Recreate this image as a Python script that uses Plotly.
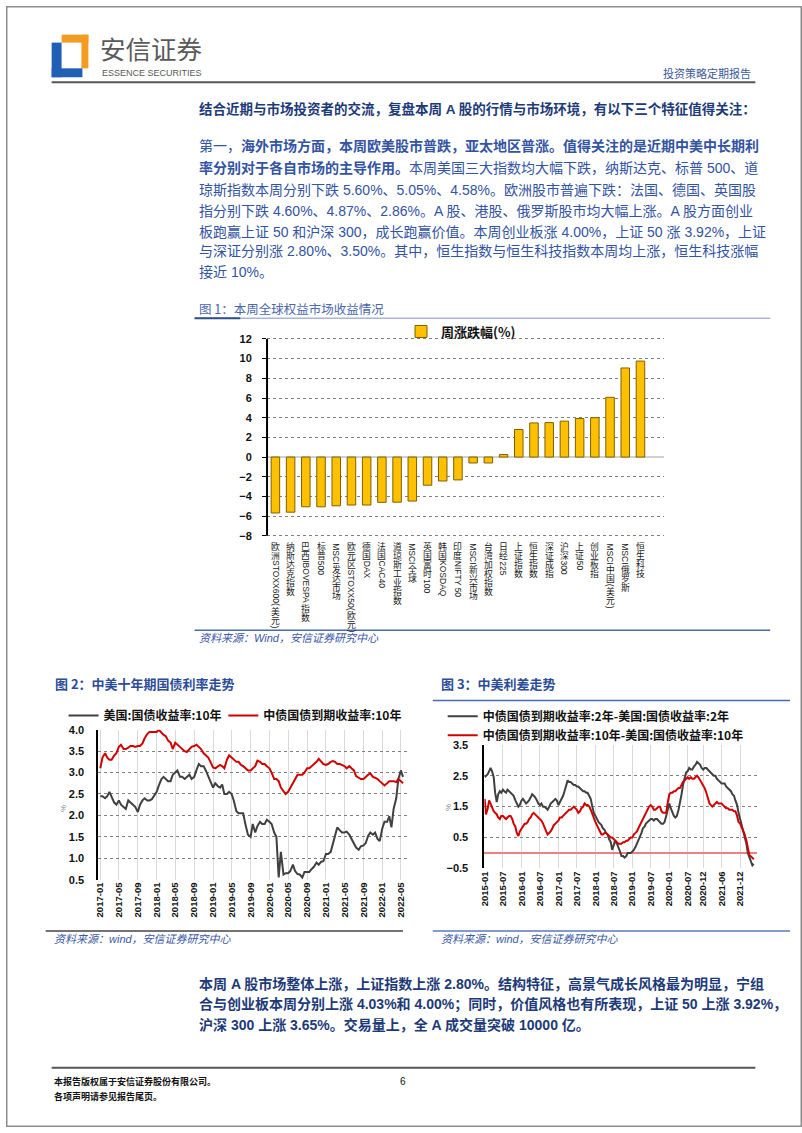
import plotly.graph_objects as go
import pandas as pd

W, H = 802, 1133


def X(p):
    return p / W


def Y(p):
    return 1 - p / H


# ---------------- data: figure 1 (weekly change, %) ----------------
markets = ["欧洲STOXX600(美元)", "纳斯达克指数", "巴西IBOVESPA指数", "标普500", "MSCI发达市场",
           "欧元区STOXX50(欧元)", "德国DAX", "法国CAC40", "道琼斯工业指数", "MSCI全球",
           "英国富时100", "韩国KOSDAQ", "印度NIFTY 50", "MSCI新兴市场", "台湾加权指数",
           "日经225", "上证指数", "恒生指数", "深证成指", "沪深300", "上证50", "创业板指",
           "MSCI中国(美元)", "MSCI俄罗斯", "恒生科技"]
weekly_change = [-5.68, -5.60, -5.05, -5.05, -4.95, -4.87, -4.87, -4.60, -4.58, -4.47,
                 -2.86, -2.43, -2.32, -0.60, -0.60, 0.25, 2.80, 3.47, 3.50, 3.65, 3.92, 4.00,
                 6.07, 9.05, 9.75]
fig1_yticks = [-8, -6, -4, -2, 0, 2, 4, 6, 8, 10, 12]

# ---------------- data: figure 2 (10Y yields, semi-monthly from 2017-01) ----------------
us10y = [
    2.45, 2.45, 2.40, 2.45, 2.55, 2.45, 2.30, 2.25, 2.35, 2.25, 2.20, 2.15,
    2.35, 2.30, 2.25, 2.20, 2.08, 2.25, 2.35, 2.40, 2.35, 2.35, 2.38, 2.45,
    2.55, 2.70, 2.85, 2.90, 2.85, 2.80, 2.80, 2.95, 3.00, 3.05, 2.90, 2.90,
    2.85, 2.90, 2.95, 2.85, 2.90, 3.05, 3.20, 3.15, 3.15, 3.05, 2.90, 2.78,
    2.65, 2.75, 2.68, 2.65, 2.72, 2.50, 2.50, 2.55, 2.50, 2.35, 2.10, 2.05,
    2.05, 2.05, 1.75, 1.55, 1.50, 1.80, 1.60, 1.75, 1.85, 1.80, 1.80, 1.90,
    1.85, 1.80, 1.60, 1.50, 0.55, 1.15, 0.62, 0.65, 0.65, 0.70, 0.85, 0.70,
    0.63, 0.62, 0.55, 0.68, 0.68, 0.68, 0.75, 0.80, 0.90, 0.85, 0.92, 0.93,
    1.10, 1.10, 1.15, 1.35, 1.50, 1.72, 1.65, 1.60, 1.60, 1.62, 1.55, 1.45,
    1.35, 1.25, 1.20, 1.28, 1.30, 1.35, 1.52, 1.60, 1.55, 1.60, 1.45, 1.40,
    1.70, 1.85, 1.85, 1.98, 1.72, 2.15, 2.40, 2.85, 3.05, 2.90]
cn10y = [
    3.10, 3.35, 3.45, 3.35, 3.30, 3.30, 3.40, 3.45, 3.60, 3.65, 3.55, 3.55,
    3.58, 3.62, 3.62, 3.60, 3.62, 3.62, 3.68, 3.80, 3.90, 3.95, 3.95, 3.95,
    3.95, 4.00, 3.92, 3.88, 3.85, 3.75, 3.70, 3.55, 3.70, 3.65, 3.60, 3.55,
    3.50, 3.48, 3.55, 3.60, 3.62, 3.65, 3.60, 3.55, 3.45, 3.40, 3.35, 3.25,
    3.12, 3.10, 3.15, 3.18, 3.15, 3.10, 3.30, 3.40, 3.35, 3.30, 3.25, 3.25,
    3.18, 3.15, 3.10, 3.05, 3.05, 3.10, 3.15, 3.28, 3.25, 3.20, 3.20, 3.15,
    3.10, 3.00, 2.85, 2.85, 2.80, 2.65, 2.55, 2.50, 2.55, 2.65, 2.75, 2.85,
    2.95, 2.95, 2.95, 3.00, 3.10, 3.10, 3.15, 3.20, 3.25, 3.32, 3.25, 3.20,
    3.18, 3.20, 3.25, 3.27, 3.25, 3.20, 3.20, 3.18, 3.15, 3.10, 3.15, 3.10,
    3.05, 2.92, 2.88, 2.85, 2.85, 2.90, 2.95, 2.98, 2.90, 2.88, 2.85, 2.80,
    2.75, 2.70, 2.75, 2.80, 2.80, 2.80, 2.78, 2.85, 2.80, 2.75]
fig2_ticks = ["2017-01", "2017-05", "2017-09", "2018-01", "2018-05", "2018-09",
              "2019-01", "2019-05", "2019-09", "2020-01", "2020-05", "2020-09",
              "2021-01", "2021-05", "2021-09", "2022-01", "2022-05"]
fig2_yticks = [0.5, 1.0, 1.5, 2.0, 2.5, 3.0, 3.5, 4.0]

# ---------------- data: figure 3 (CN-US spreads, semi-monthly from 2015-01) ----------------
spread2y = [
    2.45, 2.50, 2.55, 2.65, 2.75, 2.65, 2.45, 1.95, 1.65, 1.90, 2.00, 1.95,
    2.05, 2.00, 1.95, 2.05, 2.00, 1.95, 1.90, 1.85, 1.70, 1.60, 1.50, 1.55,
    1.70, 1.75, 1.65, 1.60, 1.65, 1.70, 1.80, 1.90, 1.85, 1.80, 1.70, 1.60,
    1.55, 1.60, 1.50, 1.50, 1.45, 1.40, 1.50, 1.60, 1.65, 1.70, 1.75, 1.70,
    1.55, 1.65, 1.75, 1.85, 2.00, 2.15, 2.35, 2.30, 2.30, 2.25, 2.20, 2.20,
    2.15, 2.15, 2.10, 2.05, 2.00, 2.00, 1.95, 1.95, 1.85, 1.75, 1.50, 1.30,
    1.20, 1.10, 1.00, 0.95, 0.90, 0.80, 0.75, 0.65, 0.60, 0.45, 0.35, 0.10,
    0.30, 0.40, 0.30, 0.20, 0.05, -0.10, -0.10, -0.15, -0.10, 0.00, 0.00, 0.00,
    0.05, 0.10, 0.20, 0.30, 0.40, 0.55, 0.65, 0.80, 0.85, 0.95, 1.00, 1.05,
    1.10, 1.10, 1.05, 1.10, 1.10, 1.05, 1.00, 0.95, 0.95, 1.00, 1.20, 1.35,
    1.60, 1.45, 1.30, 1.20, 1.15, 1.20, 1.40, 1.60, 1.90, 2.20, 2.40, 2.60,
    2.65, 2.75, 2.70, 2.70, 2.80, 2.85, 2.95, 2.90, 2.85, 2.75, 2.70, 2.75,
    2.75, 2.70, 2.65, 2.60, 2.55, 2.50, 2.50, 2.40, 2.35, 2.30, 2.25, 2.25,
    2.25, 2.15, 2.10, 2.05, 2.00, 1.90, 1.85, 1.70, 1.55, 1.30, 1.10, 0.90,
    0.70, 0.50, 0.30, 0.00, -0.15, -0.30, -0.40, -0.35]
spread10y = [
    1.75, 1.25, 1.45, 1.70, 1.60, 1.45, 1.35, 1.30, 1.25, 1.15, 1.10, 1.20,
    1.20, 1.15, 1.10, 1.15, 1.20, 1.20, 1.10, 0.95, 0.85, 0.65, 0.55, 0.70,
    0.80, 0.90, 0.95, 0.95, 1.00, 1.10, 1.15, 1.25, 1.30, 1.25, 1.20, 1.15,
    1.10, 1.05, 0.95, 0.80, 0.70, 0.60, 0.65, 0.70, 0.80, 0.90, 0.95, 1.00,
    1.05, 1.15, 1.15, 1.20, 1.25, 1.30, 1.35, 1.40, 1.40, 1.45, 1.50, 1.45,
    1.40, 1.30, 1.35, 1.45, 1.50, 1.60, 1.55, 1.55, 1.50, 1.40, 1.25, 1.10,
    1.00, 0.90, 0.80, 0.70, 0.60, 0.60, 0.65, 0.65, 0.60, 0.55, 0.50, 0.50,
    0.45, 0.40, 0.35, 0.30, 0.30, 0.30, 0.35, 0.35, 0.40, 0.40, 0.45, 0.50,
    0.50, 0.60, 0.65, 0.70, 0.80, 0.90, 1.00, 1.10, 1.20, 1.30, 1.40, 1.50,
    1.55, 1.50, 1.40, 1.40, 1.45, 1.50, 1.50, 1.35, 1.30, 1.30, 1.30, 1.60,
    1.90, 1.95, 1.95, 2.00, 2.00, 2.05, 2.10, 2.10, 2.20, 2.30, 2.35, 2.40,
    2.45, 2.40, 2.45, 2.40, 2.40, 2.45, 2.50, 2.45, 2.35, 2.30, 2.20, 2.10,
    1.95, 1.75, 1.60, 1.55, 1.50, 1.55, 1.60, 1.65, 1.60, 1.60, 1.60, 1.55,
    1.50, 1.45, 1.45, 1.40, 1.40, 1.40, 1.35, 1.35, 1.20, 1.00, 0.95, 0.85,
    0.75, 0.60, 0.40, 0.10, -0.05, -0.10, -0.15, -0.20]
fig3_ticks = ["2015-01", "2015-07", "2016-01", "2016-07", "2017-01", "2017-07", "2018-01",
              "2018-07", "2019-01", "2019-07", "2020-01", "2020-07", "2020-12", "2021-06",
              "2021-12"]
fig3_yticks = [-0.5, 0.5, 1.5, 2.5, 3.5]

dates2 = pd.date_range("2017-01-01", periods=len(us10y), freq="SMS")
dates3 = pd.date_range("2015-01-01", periods=len(spread2y), freq="SMS")

# ---------------- styles ----------------
SANS = "Liberation Sans, Arial, Noto Sans CJK SC"
CJK = "Noto Sans CJK SC"
BOLD_BLUE = "#1d3a78"
TEXT_BLUE = "#3353a3"
TITLE_BLUE = "#2c4c98"
BAR_GOLD = "#FFC000"
GRAY_LINE = "#404040"
RED_LINE = "#d00000"

fig = go.Figure()

# ---------------- figure 1 bars ----------------
fig.add_trace(go.Bar(
    x=list(range(len(markets))), y=weekly_change, width=0.56,
    marker=dict(color=BAR_GOLD, line=dict(color="#7f6000", width=1)),
    name="周涨跌幅(%)", xaxis="x", yaxis="y", legend="legend", showlegend=True,
    customdata=markets))

# ---------------- figure 2 lines ----------------
fig.add_trace(go.Scatter(x=dates2, y=us10y, mode="lines", name="美国:国债收益率:10年",
                         line=dict(color=GRAY_LINE, width=2), xaxis="x2", yaxis="y2",
                         legend="legend2"))
fig.add_trace(go.Scatter(x=dates2, y=cn10y, mode="lines", name="中债国债到期收益率:10年",
                         line=dict(color=RED_LINE, width=2), xaxis="x2", yaxis="y2",
                         legend="legend4"))

# ---------------- figure 3 lines ----------------
fig.add_trace(go.Scatter(x=dates3, y=spread2y, mode="lines",
                         name="中债国债到期收益率:2年-美国:国债收益率:2年",
                         line=dict(color=GRAY_LINE, width=2), xaxis="x3", yaxis="y3",
                         legend="legend3"))
fig.add_trace(go.Scatter(x=dates3, y=spread10y, mode="lines",
                         name="中债国债到期收益率:10年-美国:国债收益率:10年",
                         line=dict(color=RED_LINE, width=2), xaxis="x3", yaxis="y3",
                         legend="legend3"))

tickfont_b = dict(family=SANS, size=11, color="#111111", weight="bold")
legfont = dict(family=CJK, size=12, color="#111111", weight="bold")

# fig 1 value axis: 9.9 px per unit, 12 at y=336.5 px, -8 at y=535.5 px
PX_PER_UNIT = (535.5 - 336.5) / 20.0
Y1_LO, Y1_HI = -8.4, 12.4

fig.update_layout(
    width=W, height=H, margin=dict(l=0, r=0, t=0, b=0),
    paper_bgcolor="white", plot_bgcolor="white",
    xaxis=dict(domain=[X(263), X(663)], range=[-0.55, 25.55], anchor="y",
               showticklabels=False, showgrid=False, zeroline=False, showline=False),
    yaxis=dict(domain=[Y(535.5 + (-8 - Y1_LO) * PX_PER_UNIT),
                       Y(336.5 - (Y1_HI - 12) * PX_PER_UNIT)],
               range=[Y1_LO, Y1_HI], tickvals=fig1_yticks,
               anchor="x", showline=False,
               ticks="outside", ticklen=4, tickcolor="black", ticklabelstandoff=8,
               showgrid=True, gridcolor="#808080", griddash="dot", gridwidth=1,
               zeroline=True, zerolinecolor="#d0d0d0", zerolinewidth=2,
               tickfont=tickfont_b),
    xaxis2=dict(domain=[X(93), X(405)], type="date", range=["2016-12-19", "2022-06-16"],
                anchor="y2", tickvals=[t + "-01" for t in fig2_ticks], ticktext=fig2_ticks,
                tickangle=-90, showgrid=True, gridcolor="#d9d9d9", gridwidth=1,
                showline=False, zeroline=False,
                tickfont=dict(family=SANS, size=9.5, color="#111111", weight="bold")),
    yaxis2=dict(domain=[Y(883), Y(731.5)], range=[0.5, 4.0], anchor="x2",
                tickvals=fig2_yticks, tickformat=".1f",
                showline=True, linecolor="black", linewidth=2, ticklabelstandoff=10,
                showgrid=True, gridcolor="#808080", griddash="dot", gridwidth=1,
                zeroline=False, tickfont=tickfont_b),
    xaxis3=dict(domain=[X(482), X(757)], type="date", range=["2014-12-30", "2022-05-20"],
                anchor="y3", tickvals=[t + "-01" for t in fig3_ticks], ticktext=fig3_ticks,
                tickangle=-90, showgrid=True, gridcolor="#d9d9d9", gridwidth=1,
                showline=False, zeroline=False,
                tickfont=dict(family=SANS, size=9.5, color="#111111", weight="bold")),
    yaxis3=dict(domain=[Y(871.7), Y(746.7)], range=[-0.5, 3.5], anchor="x3",
                tickvals=fig3_yticks, tickformat=".1f",
                showline=True, linecolor="black", linewidth=2, ticklabelstandoff=12,
                showgrid=True, gridcolor="#808080", griddash="dot", gridwidth=1,
                zeroline=True, zerolinecolor="#f08080", zerolinewidth=1.5,
                tickfont=tickfont_b),
    legend=dict(x=X(398), y=Y(329), xanchor="left", yanchor="middle",
                bgcolor="rgba(0,0,0,0)", font=dict(family=CJK, size=13, color="#111111",
                                                    weight="bold")),
    legend2=dict(x=X(58), y=Y(717), xanchor="left", yanchor="middle",
                 bgcolor="rgba(0,0,0,0)", font=legfont),
    legend4=dict(x=X(219), y=Y(717), xanchor="left", yanchor="middle",
                 bgcolor="rgba(0,0,0,0)", font=legfont),
    legend3=dict(x=X(440), y=Y(727.5), xanchor="left", yanchor="middle",
                 bgcolor="rgba(0,0,0,0)", tracegroupgap=0, font=legfont),
    hovermode=False,
)

# ---------------- shapes: lines, logo, border ----------------
shapes = []


def hline(x0, x1, y, color, width):
    shapes.append(dict(type="line", xref="paper", yref="paper", x0=X(x0), x1=X(x1),
                       y0=Y(y), y1=Y(y), line=dict(color=color, width=width)))


def rect(x0, y0, x1, y1, color):
    shapes.append(dict(type="rect", xref="paper", yref="paper", x0=X(x0), x1=X(x1),
                       y0=Y(y1), y1=Y(y0), fillcolor=color, line=dict(width=0)))


# page border
shapes.append(dict(type="rect", xref="paper", yref="paper", x0=X(0.75), x1=X(801.25),
                   y0=Y(1132.25), y1=Y(0.75), line=dict(color="#8c8c8c", width=1.5)))
# figure 1 value-axis line (from -8 to 12)
shapes.append(dict(type="line", xref="x domain", yref="y", x0=0, x1=0,
                   y0=fig1_yticks[0], y1=fig1_yticks[-1],
                   line=dict(color="black", width=2)))
# logo
rect(56, 29, 83, 37, "#f39c1f")
rect(76, 29, 83, 63, "#f39c1f")
rect(46, 37, 56, 72, "#1f5fb5")
rect(46, 63, 77, 72, "#1f5fb5")
# header / footer rules
hline(46, 755, 77, "#555555", 2)
hline(46, 755, 1073, "#555555", 2)
# figure 1 title rule and source rule
hline(190, 770, 315.5, "#a8b6d4", 1.5)
hline(190, 236, 315.5, "#2f4f8f", 2)
hline(190, 770, 631, "#4a6ab0", 1.5)
# figure 2 / 3 rules
hline(40, 400, 935, "#444444", 1.5)
hline(430, 790, 702, "#4a6ab0", 1.5)
hline(430, 790, 935, "#5a78b8", 1.5)
fig.update_layout(shapes=shapes)

# ---------------- annotations ----------------
anns = []


def text(x, y, s, size, color, family=SANS, xanchor="left", yanchor="middle", **kw):
    anns.append(dict(x=X(x), y=Y(y), xref="paper", yref="paper", text=s, showarrow=False,
                     xanchor=xanchor, yanchor=yanchor,
                     font=dict(family=family, size=size, color=color), **kw))


# header
text(93, 42, "安信证券", 25.5, "#595959", family=CJK)
text(95, 67.5, "ESSENCE SECURITIES", 9, "#595959", family=SANS)
text(753, 68, "投资策略定期报告", 11, "#3d5a99", family=CJK, xanchor="right")

# body paragraph
text(192, 104, "<b>结合近期与市场投资者的交流，复盘本周 A 股的行情与市场环境，有以下三个特征值得关注：</b>",
     13.5, BOLD_BLUE)
para = [
    (142, "第一，<b>海外市场方面，本周欧美股市普跌，亚太地区普涨。值得关注的是近期中美中长期利</b>"),
    (164, "<b>率分别对于各自市场的主导作用。</b>本周美国三大指数均大幅下跌，纳斯达克、标普 500、道"),
    (186, "琼斯指数本周分别下跌 5.60%、5.05%、4.58%。欧洲股市普遍下跌：法国、德国、英国股"),
    (207, "指分别下跌 4.60%、4.87%、2.86%。A 股、港股、俄罗斯股市均大幅上涨。A 股方面创业"),
    (228, "板跑赢上证 50 和沪深 300，成长跑赢价值。本周创业板涨 4.00%，上证 50 涨 3.92%，上证"),
    (248, "与深证分别涨 2.80%、3.50%。其中，恒生指数与恒生科技指数本周均上涨，恒生科技涨幅"),
    (269, "接近 10%。"),
]
for yy, s in para:
    text(192, yy, s, 14, TEXT_BLUE)

# figure titles
text(192, 306, "图 1：本周全球权益市场收益情况", 12.5, "#4a68aa", family=CJK)
text(47, 685, "<b>图 2：中美十年期国债利率走势</b>", 13, TITLE_BLUE, family=CJK)
text(436, 685, "<b>图 3：中美利差走势</b>", 13, TITLE_BLUE, family=CJK)

# source notes
text(192, 639, "<i>资料来源：Wind，安信证券研究中心</i>", 11, "#3a58a5")
text(46, 943, "<i>资料来源：wind，安信证券研究中心</i>", 11, "#3a58a5")
text(436, 943, "<i>资料来源：wind，安信证券研究中心</i>", 11, "#3a58a5")

# % axis titles
text(58, 811, "%", 8, "#888888", xanchor="center", textangle=-90)
text(446, 810, "%", 8, "#888888", xanchor="center", textangle=-90)

# bottom paragraph
bottom = [
    (988, "<b>本周 A 股市场整体上涨，上证指数上涨 2.80%。结构特征，高景气成长风格最为明显，宁组</b>"),
    (1009, "<b>合与创业板本周分别上涨 4.03%和 4.00%；同时，价值风格也有所表现，上证 50 上涨 3.92%，</b>"),
    (1030, "<b>沪深 300 上涨 3.65%。交易量上，全 A 成交量突破 10000 亿。</b>"),
]
for yy, s in bottom:
    text(192, yy, s, 14, BOLD_BLUE)

# footer
text(46, 1087, "<b>本报告版权属于安信证券股份有限公司。</b>", 9, "#111111", family=CJK)
text(46, 1102, "<b>各项声明请参见报告尾页。</b>", 9, "#111111", family=CJK)
text(400, 1087, "6", 10, "#111111", xanchor="center")

# vertical category labels for figure 1 (CJK upright, Latin rotated)
LAT_W = {"0": .556, "1": .556, "2": .556, "3": .556, "4": .556, "5": .556, "6": .556,
         "7": .556, "8": .556, "9": .556, "S": .667, "T": .611, "O": .778, "X": .667,
         "(": .333, ")": .333, "I": .278, "B": .667, "V": .667, "E": .667, "P": .667,
         "A": .667, "M": .833, "C": .722, "D": .722, "K": .667, "Q": .778, "N": .722,
         "F": .611, "Y": .667, " ": .278}
CJK_STEP = 9.0
LAT_SIZE = 8.5
for k, label in enumerate(markets):
    runs = []
    for ch in label:
        is_cjk = ord(ch) > 0x2E80
        if runs and not is_cjk and not runs[-1][0]:
            runs[-1][1] += ch
        else:
            runs.append([is_cjk, ch])
    cur = 542.0
    for is_cjk, s in runs:
        if is_cjk:
            anns.append(dict(x=k, xref="x", y=Y(cur + CJK_STEP / 2), yref="paper", text=s,
                             showarrow=False, xanchor="center", yanchor="middle",
                             height=CJK_STEP, borderpad=0,
                             font=dict(family=CJK, size=8.8, color="#1a1a1a")))
            cur += CJK_STEP
        else:
            L = sum(LAT_W.get(c, .6) for c in s) * LAT_SIZE
            anns.append(dict(x=k, xref="x", y=Y(cur + L / 2 + 0.75), yref="paper", text=s,
                             showarrow=False, xanchor="center", yanchor="middle",
                             textangle=90, borderpad=0,
                             font=dict(family=SANS, size=LAT_SIZE, color="#1a1a1a")))
            cur += L + 1.5

fig.update_layout(annotations=anns)

fig.write_html("out.html", post_script="document.body.style.margin='0';")
